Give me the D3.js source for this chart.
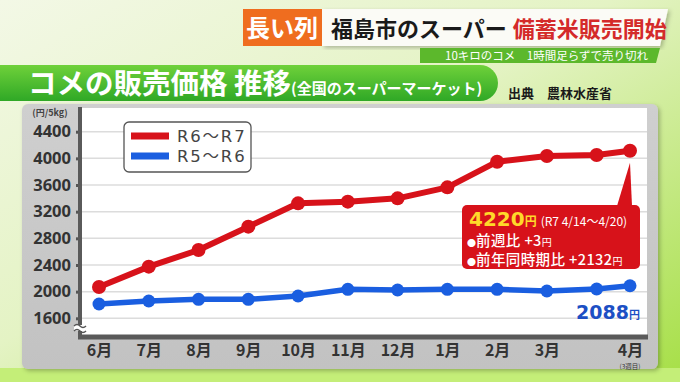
<!DOCTYPE html>
<html>
<head>
<meta charset="utf-8">
<script src="https://cdn.jsdelivr.net/npm/d3@7"></script>
<style>
  html, body { margin: 0; padding: 0; background: #fff; }
  svg { display: block; font-family: "Noto Sans CJK JP", "Noto Sans", sans-serif; }
</style>
</head>
<body>
<svg id="chart" width="680" height="382"></svg>
<script>
'use strict';

// months since June (4月 is the 3rd week, drawn a bit past the early-April point)
var monthPos = [0, 1, 2, 3, 4, 5, 6, 7, 8, 9, 10, 10.67];
var monthLabels = ['6月', '7月', '8月', '9月', '10月', '11月', '12月', '1月', '2月', '3月', '', '4月'];
var r6r7 = [2070, 2375, 2625, 2975, 3325, 3350, 3400, 3565, 3950, 4035, 4050, 4115];
var r5r6 = [1815, 1860, 1885, 1885, 1935, 2035, 2025, 2035, 2035, 2010, 2040, 2088];
var yTicks = [1600, 2000, 2400, 2800, 3200, 3600, 4000, 4400];
var seriesNames = ['R6～R7', 'R5～R6'];

var RED = '#d7121a', BLUE = '#1a5ee0';

var svg = d3.select('#chart');
var defs = svg.append('defs');

var bg = defs.append('linearGradient').attr('id', 'bg')
  .attr('x1', 0).attr('y1', 0).attr('x2', 1).attr('y2', 1);
bg.append('stop').attr('offset', '0%').attr('stop-color', '#f3f8e6');
bg.append('stop').attr('offset', '45%').attr('stop-color', '#e4f3c4');
bg.append('stop').attr('offset', '100%').attr('stop-color', '#a6df46');

var banner = defs.append('linearGradient').attr('id', 'banner')
  .attr('x1', 0).attr('y1', 0).attr('x2', 0).attr('y2', 1);
banner.append('stop').attr('offset', '0%').attr('stop-color', '#6fd13a');
banner.append('stop').attr('offset', '100%').attr('stop-color', '#2fa826');

var panelG = defs.append('linearGradient').attr('id', 'panel')
  .attr('x1', 0).attr('y1', 0).attr('x2', 0).attr('y2', 1);
panelG.append('stop').attr('offset', '0%').attr('stop-color', '#cfcfcf');
panelG.append('stop').attr('offset', '100%').attr('stop-color', '#c2c2c2');

var shadow = defs.append('filter').attr('id', 'shadow')
  .attr('x', '-5%').attr('y', '-5%').attr('width', '110%').attr('height', '115%');
shadow.append('feDropShadow').attr('dx', 2).attr('dy', 2).attr('stdDeviation', 2)
  .attr('flood-color', '#000').attr('flood-opacity', 0.25);

// background
svg.append('rect').attr('width', 680).attr('height', 382).attr('fill', 'url(#bg)');
svg.append('rect').attr('y', 368).attr('width', 680).attr('height', 14).attr('fill', '#c4ee78');

// ---- header ----
svg.append('path')
  .attr('d', 'M322,9 H668 L660,46 H322 Z')
  .attr('fill', '#fbfbf6').attr('filter', 'url(#shadow)');
svg.append('rect').attr('x', 243).attr('y', 9).attr('width', 79).attr('height', 37)
  .attr('fill', '#ef6d1f');
svg.append('text').attr('x', 282).attr('y', 37).attr('text-anchor', 'middle')
  .attr('font-size', 24).attr('font-weight', 'bold').attr('fill', '#fff')
  .text('長い列');
var head = svg.append('text').attr('x', 331).attr('y', 37)
  .attr('font-size', 22).attr('font-weight', 'bold');
head.append('tspan').attr('fill', '#1a1a1a').text('福島市のスーパー');
head.append('tspan').attr('fill', '#d42a2a').attr('dx', 6).text('備蓄米販売開始');

svg.append('path').attr('d', 'M420,48 H660 L656,63 H420 Z').attr('fill', '#5cb82c');
svg.append('text').attr('x', 648).attr('y', 60).attr('text-anchor', 'end')
  .attr('font-size', 11.5).attr('fill', '#fff')
  .text('10キロのコメ　1時間足らずで売り切れ');

// ---- title banner ----
svg.append('path')
  .attr('d', 'M0,65 H480 A18,18 0 0 1 498,83 A18,18 0 0 1 480,101 H0 Z')
  .attr('fill', 'url(#banner)');
var title = svg.append('text').attr('x', 28).attr('y', 94).attr('fill', '#fff')
  .attr('font-weight', 'bold');
title.append('tspan').attr('font-size', 28.5).text('コメの販売価格 推移');
title.append('tspan').attr('font-size', 15).text('(全国のスーパーマーケット)');
svg.append('text').attr('x', 508).attr('y', 98).attr('font-size', 13)
  .attr('fill', '#1a1a1a').attr('font-weight', 'bold').text('出典　農林水産省');

// ---- chart panel ----
var plot = { left: 82, right: 647, top: 108, bottom: 335 };

svg.append('rect').attr('x', 22).attr('y', 104).attr('width', 636).attr('height', 265)
  .attr('rx', 6).attr('fill', 'url(#panel)').attr('filter', 'url(#shadow)');
svg.append('rect').attr('x', plot.left).attr('y', plot.top)
  .attr('width', plot.right - plot.left).attr('height', plot.bottom - plot.top)
  .attr('fill', '#fff');

var x = d3.scaleLinear().domain([0, 10.67]).range([99, 630]);
var y = d3.scaleLinear().domain([1600, 4400]).range([318.3, 131.7]);

// gridlines
svg.append('g').selectAll('line').data(yTicks).join('line')
  .attr('x1', plot.left).attr('x2', plot.right)
  .attr('y1', function(d) { return y(d); }).attr('y2', function(d) { return y(d); })
  .attr('stroke', '#dcdcdc').attr('stroke-width', 1.5);

// y axis
var yAxis = svg.append('g').attr('transform', 'translate(80,0)')
  .call(d3.axisLeft(y).tickValues(yTicks).tickSize(4).tickPadding(5).tickFormat(d3.format('d')));
yAxis.select('.domain').remove();
yAxis.selectAll('.tick line').attr('stroke', '#555').attr('stroke-width', 3);
yAxis.selectAll('.tick text')
  .attr('font-size', 16.5).attr('font-weight', 'bold').attr('fill', '#333')
  .attr('font-family', '"Noto Sans", "Noto Sans CJK JP", sans-serif');

svg.append('text').attr('x', 50).attr('y', 116).attr('text-anchor', 'middle')
  .attr('font-size', 9).attr('font-weight', 'bold').attr('fill', '#444')
  .text('(円/5kg)');

// axis lines
svg.append('line').attr('x1', 80).attr('x2', 80).attr('y1', 107).attr('y2', 339)
  .attr('stroke', '#5a5a5a').attr('stroke-width', 4);
svg.append('line').attr('x1', 78).attr('x2', plot.right + 1).attr('y1', 337).attr('y2', 337)
  .attr('stroke', '#5a5a5a').attr('stroke-width', 5);

// break mark
svg.append('rect').attr('x', 74).attr('y', 325).attr('width', 12).attr('height', 6).attr('fill', '#fff');
['M74,326 q3,-3 6,0 t6,0', 'M74,331 q3,-3 6,0 t6,0'].forEach(function(d) {
  svg.append('path').attr('d', d).attr('fill', 'none').attr('stroke', '#555').attr('stroke-width', 1.5);
});

// x axis labels
var xAxis = svg.append('g').attr('transform', 'translate(0,338)')
  .call(d3.axisBottom(x).tickValues(monthPos.filter(function(d, i) { return monthLabels[i]; }))
    .tickSize(0).tickPadding(7)
    .tickFormat(function(d) { return monthLabels[monthPos.indexOf(d)]; }));
xAxis.select('.domain').remove();
xAxis.selectAll('.tick text')
  .attr('font-size', 16).attr('font-weight', 'bold').attr('fill', '#333')
  .attr('font-family', '"Noto Sans CJK JP", sans-serif');
svg.append('text').attr('x', x(10.67)).attr('y', 369).attr('text-anchor', 'middle')
  .attr('font-size', 6.5).attr('fill', '#333').text('(3週目)');

// series
var line = d3.line()
  .x(function(d, i) { return x(monthPos[i]); })
  .y(function(d) { return y(d); });

[[r5r6, BLUE, 5.5, 6.5], [r6r7, RED, 6, 7]].forEach(function(s) {
  var g = svg.append('g');
  g.append('path').datum(s[0]).attr('d', line)
    .attr('fill', 'none').attr('stroke', s[1]).attr('stroke-width', s[2])
    .attr('stroke-linejoin', 'round');
  g.selectAll('circle').data(s[0]).join('circle')
    .attr('cx', function(d, i) { return x(monthPos[i]); })
    .attr('cy', function(d) { return y(d); })
    .attr('r', s[3]).attr('fill', s[1]);
});

// legend
var legend = svg.append('g');
legend.append('rect').attr('x', 124).attr('y', 122).attr('width', 127).attr('height', 50)
  .attr('rx', 5).attr('fill', '#fff').attr('stroke', '#555').attr('stroke-width', 1.3);
[[RED, seriesNames[0], 136], [BLUE, seriesNames[1], 156]].forEach(function(l) {
  legend.append('line').attr('x1', 131).attr('x2', 169).attr('y1', l[2]).attr('y2', l[2])
    .attr('stroke', l[0]).attr('stroke-width', 7);
  legend.append('text').attr('x', 177).attr('y', l[2] + 6)
    .attr('font-size', 16.5).attr('fill', '#444').attr('letter-spacing', 1.8)
    .attr('font-family', '"DejaVu Sans", "Noto Sans CJK JP", sans-serif')
    .text(l[1]);
});

// callout for latest value
var last = r6r7.length - 1;
var callout = svg.append('g');
callout.append('path')
  .attr('d', 'M617,206 L' + x(monthPos[last]) + ',' + (y(r6r7[last]) + 12) + ' L632,206 Z')
  .attr('fill', RED);
callout.append('rect').attr('x', 462).attr('y', 205).attr('width', 178).attr('height', 64)
  .attr('rx', 5).attr('fill', RED);
var c1 = callout.append('text').attr('x', 469).attr('y', 226).attr('font-weight', 'bold');
c1.append('tspan').attr('font-size', 20).attr('fill', '#ffd92a')
  .attr('font-family', '"DejaVu Sans", sans-serif').text('4220');
c1.append('tspan').attr('font-size', 12).attr('fill', '#ffd92a').text('円');
c1.append('tspan').attr('font-size', 12).attr('fill', '#fff').attr('font-weight', 'normal')
  .attr('dx', 4).text('(R7 4/14～4/20)');
var c2 = callout.append('text').attr('x', 467).attr('y', 246).attr('fill', '#fff');
c2.append('tspan').attr('font-size', 9).text('●');
c2.append('tspan').attr('font-size', 14.5).attr('font-weight', 500).attr('letter-spacing', 0.4).text('前週比 +3');
c2.append('tspan').attr('font-size', 10).text('円');
var c3 = callout.append('text').attr('x', 467).attr('y', 265).attr('fill', '#fff');
c3.append('tspan').attr('font-size', 9).text('●');
c3.append('tspan').attr('font-size', 14.5).attr('font-weight', 500).attr('letter-spacing', 0.4).text('前年同時期比 +2132');
c3.append('tspan').attr('font-size', 10).text('円');

// blue value label
var bl = svg.append('text').attr('x', 640).attr('y', 319).attr('text-anchor', 'end')
  .attr('fill', '#1c4fc4').attr('font-weight', 'bold');
bl.append('tspan').attr('font-size', 19).attr('font-family', '"DejaVu Sans", sans-serif')
  .text(d3.format('d')(r5r6[r5r6.length - 1]));
bl.append('tspan').attr('font-size', 11).text('円');
</script>
</body>
</html>
